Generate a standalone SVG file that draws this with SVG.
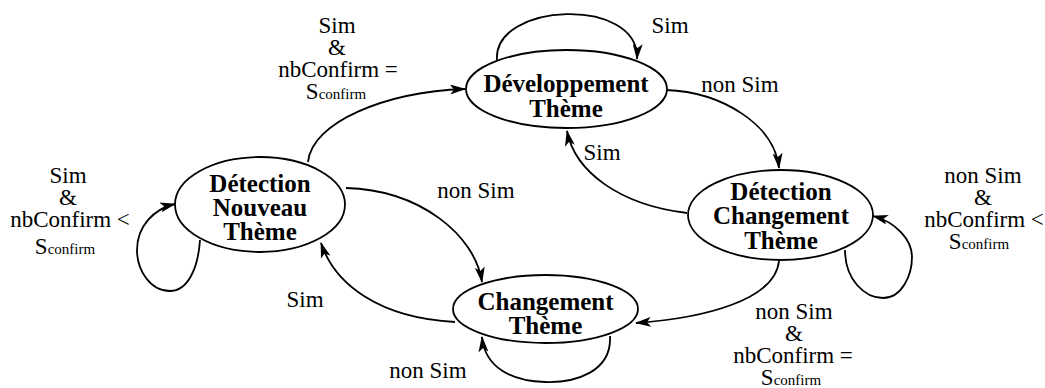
<svg xmlns="http://www.w3.org/2000/svg" width="1045" height="388" viewBox="0 0 1045 388">
<style>
.node ellipse{fill:#fff;stroke:#000;stroke-width:1.8}
.node text{font-family:"Liberation Serif","Times New Roman",serif;font-weight:bold;font-size:25px;text-anchor:middle;fill:#000}
.edges path{fill:none;stroke:#000;stroke-width:1.8;marker-end:url(#arr)}
.lbl{font-family:"Liberation Serif","Times New Roman",serif;font-size:23px;text-anchor:middle;fill:#000}
.sub{font-size:15px}
</style>
<defs>
<marker id="arr" viewBox="0 0 16 10" refX="15" refY="5" markerWidth="16" markerHeight="10" orient="auto" markerUnits="userSpaceOnUse">
<path d="M0,0 L16,5 L0,10 L4,5 z" fill="#000"/>
</marker>
</defs>
<rect width="1045" height="388" fill="#fff"/>
<g class="edges">
<path d="M308,162 C312,122 385,92 465,89"/>
<path d="M497,60 C493,2 640,-4 637,59"/>
<path d="M666,90 C722,92 775,125 779,168"/>
<path d="M687,213 C620,205 575,172 567,131"/>
<path d="M346,188 C420,190 475,235 482,282"/>
<path d="M455,322 C380,318 335,285 321,243"/>
<path d="M200,240 C198,270 187,291 170,291 C150,291 137,270 137,250 C137,226 154,209 175,204"/>
<path d="M845,250 C845,280 865,298 883,298 C902,298 912,275 912,257 C912,240 896,222 873,216"/>
<path d="M779,261 C775,300 705,318 636,323"/>
<path d="M610,336 C612,372 575,383 545,382 C512,381 485,368 482,337"/>
</g>
<g id="n-dev" class="node">
<ellipse cx="566.5" cy="89" rx="100.5" ry="39"/>
<text x="566" y="92">Développement</text>
<text x="566" y="117">Thème</text>
</g>
<g id="n-dnt" class="node">
<ellipse cx="260" cy="204.5" rx="85" ry="47.5"/>
<text x="260" y="192">Détection</text>
<text x="260" y="216">Nouveau</text>
<text x="260" y="240">Thème</text>
</g>
<g id="n-dct" class="node">
<ellipse cx="780.5" cy="215" rx="92.5" ry="45"/>
<text x="781" y="200">Détection</text>
<text x="781" y="224">Changement</text>
<text x="781" y="249">Thème</text>
</g>
<g id="n-ct" class="node">
<ellipse cx="545.5" cy="309" rx="92.5" ry="34"/>
<text x="545.5" y="310">Changement</text>
<text x="545.5" y="334">Thème</text>
</g>
<g id="labels">
<text class="lbl" x="337" y="33">Sim</text>
<text class="lbl" x="337" y="55">&amp;</text>
<text class="lbl" x="338" y="77">nbConfirm =</text>
<text class="lbl" x="336" y="99">S<tspan class="sub">confirm</tspan></text>
<text class="lbl" x="670" y="33">Sim</text>
<text class="lbl" x="740" y="92">non Sim</text>
<text class="lbl" x="602" y="160">Sim</text>
<text class="lbl" x="476" y="198">non Sim</text>
<text class="lbl" x="305" y="307">Sim</text>
<text class="lbl" x="68" y="183">Sim</text>
<text class="lbl" x="68" y="205">&amp;</text>
<text class="lbl" x="70" y="227">nbConfirm &lt;</text>
<text class="lbl" x="65" y="254">S<tspan class="sub">confirm</tspan></text>
<text class="lbl" x="983" y="183">non Sim</text>
<text class="lbl" x="983" y="205">&amp;</text>
<text class="lbl" x="984" y="227">nbConfirm &lt;</text>
<text class="lbl" x="979" y="249">S<tspan class="sub">confirm</tspan></text>
<text class="lbl" x="794" y="319">non Sim</text>
<text class="lbl" x="794" y="341">&amp;</text>
<text class="lbl" x="793" y="363">nbConfirm =</text>
<text class="lbl" x="791" y="385">S<tspan class="sub">confirm</tspan></text>
<text class="lbl" x="428" y="378">non Sim</text>
</g>
</svg>
